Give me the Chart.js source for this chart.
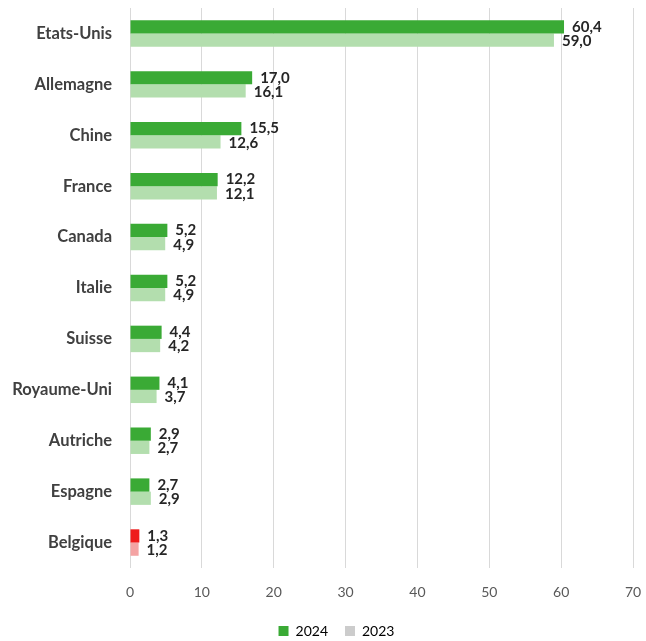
<!DOCTYPE html>
<html><head><meta charset="utf-8">
<script src="https://cdn.jsdelivr.net/npm/chart.js@4/dist/chart.umd.min.js"></script>
<style>html,body{margin:0;padding:0;background:#fff}#wrap{width:646px;height:641px}</style>
</head><body><div id="wrap"><canvas id="c"></canvas></div>
<script>
const categories = ["Etats-Unis","Allemagne","Chine","France","Canada","Italie","Suisse","Royaume-Uni","Autriche","Espagne","Belgique"];
const values2024 = [60.4,17.0,15.5,12.2,5.2,5.2,4.4,4.1,2.9,2.7,1.3];
const values2023 = [59.0,16.1,12.6,12.1,4.9,4.9,4.2,3.7,2.7,2.9,1.2];
const seriesNames = ["2024","2023"];
const xTicks = [0,10,20,30,40,50,60,70];

const green = "#3aaa35", lightGreen = "#b3deae", red = "#ee1c1c", pink = "#f4a3a3";
const col24 = categories.map(c => c === "Belgique" ? red : green);
const col23 = categories.map(c => c === "Belgique" ? pink : lightGreen);
const FONT = "Lato, 'Open Sans', sans-serif";

const labelPlugin = {
  id: 'vals',
  afterLayout(chart) {
    if (chart.legend) { chart.legend.left += 20; chart.legend.right += 20; }
  },
  afterDatasetsDraw(chart) {
    const ctx = chart.ctx;
    ctx.save();
    ctx.font = "bold 15px " + FONT;
    ctx.fillStyle = "#262626";
    ctx.textBaseline = "middle";
    ctx.textAlign = "left";
    chart.data.datasets.forEach((ds, di) => {
      chart.getDatasetMeta(di).data.forEach((bar, i) => {
        const t = ds.data[i].toFixed(1).replace('.', ',');
        ctx.fillText(t, bar.x + 8, bar.y + (di === 0 ? 0 : 1));
      });
    });
    ctx.restore();
  }
};

new Chart(document.getElementById('c'), {
  type: 'bar',
  data: {
    labels: categories,
    datasets: [
      { label: seriesNames[0], data: values2024, backgroundColor: col24, categoryPercentage: 0.52, barPercentage: 1.0 },
      { label: seriesNames[1], data: values2023, backgroundColor: col23, categoryPercentage: 0.52, barPercentage: 1.0 }
    ]
  },
  options: {
    indexAxis: 'y',
    responsive: true,
    maintainAspectRatio: false,
    animation: false,
    layout: { padding: { top: 8, right: 13, left: 0, bottom: -7 } },
    plugins: {
      legend: {
        position: 'bottom',
        labels: {
          boxWidth: 10, boxHeight: 10, padding: 17,
          color: "#595959",
          font: { family: FONT, size: 14 },
          generateLabels(chart) {
            const cs = [green, "#cccccc"];
            return chart.data.datasets.map((d, i) => ({
              text: d.label, fillStyle: cs[i], strokeStyle: cs[i], lineWidth: 0, datasetIndex: i, hidden: false
            }));
          }
        }
      },
      tooltip: { enabled: false }
    },
    scales: {
      x: {
        min: 0, max: 70,
        afterBuildTicks(ax) { ax.ticks = xTicks.map(v => ({ value: v })); },
        afterFit(ax) { ax.height = 39; ax.paddingRight = 0; ax.paddingLeft = 0; },
        grid: { color: "#d9d9d9", drawTicks: false },
        border: { display: false },
        ticks: { color: "#595959", font: { family: FONT, size: 14 }, padding: 16 }
      },
      y: {
        grid: { display: false },
        border: { display: false },
        afterFit(ax) { ax.width = 130; ax.paddingTop = 0; ax.paddingBottom = 0; },
        ticks: { color: "#404040", font: { family: FONT, size: 16.5, weight: 'bold' }, padding: 10 }
      }
    }
  },
  plugins: [labelPlugin]
});
</script></body></html>
